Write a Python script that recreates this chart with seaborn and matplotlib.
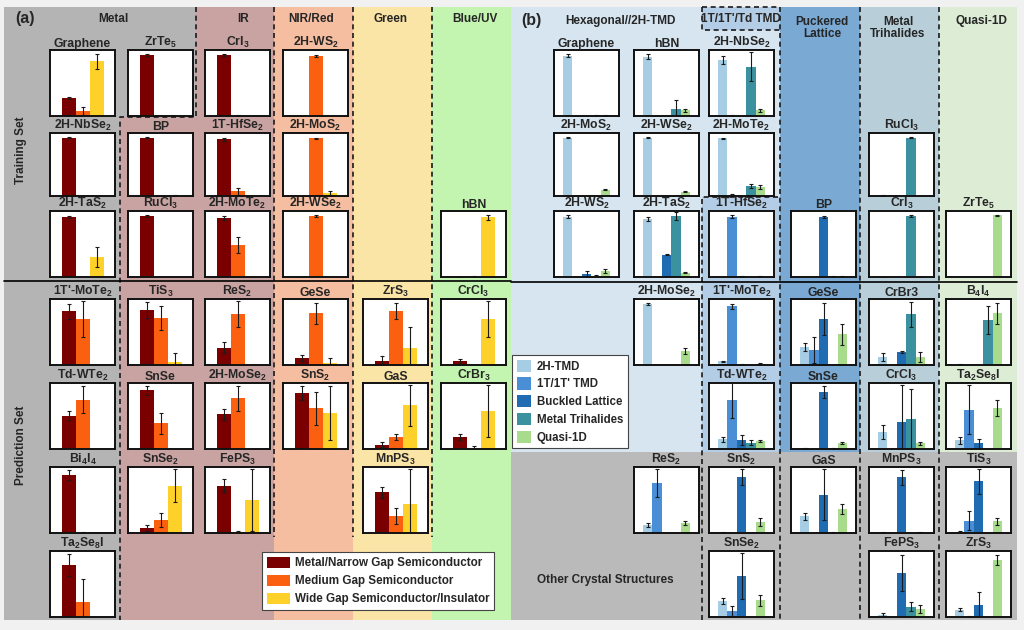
import numpy as np
import matplotlib
matplotlib.use('Agg')
import matplotlib.pyplot as plt
import seaborn as sns
from matplotlib.patches import Patch, Polygon, Rectangle

# ---------------- data : panel (a) band-gap class probabilities ----------------
a_classes = ['Metal/Narrow Gap Semiconductor', 'Medium Gap Semiconductor',
             'Wide Gap Semiconductor/Insulator']
a_names = ['Graphene', 'ZrTe$_5$', 'CrI$_3$', '2H-WS$_2$',
           '2H-NbSe$_2$', 'BP', '1T-HfSe$_2$', '2H-MoS$_2$',
           '2H-TaS$_2$', 'RuCl$_3$', '2H-MoTe$_2$', '2H-WSe$_2$', 'hBN',
           "1T'-MoTe$_2$", 'TiS$_3$', 'ReS$_2$', 'GeSe', 'ZrS$_3$', 'CrCl$_3$',
           'Td-WTe$_2$', 'SnSe', '2H-MoSe$_2$', 'SnS$_2$', 'GaS', 'CrBr$_3$',
           'Bi$_4$I$_4$', 'SnSe$_2$', 'FePS$_3$', 'MnPS$_3$',
           'Ta$_2$Se$_8$I']
a_metal = [0.29, 0.99, 0.99, 0.003, 0.99, 0.99, 0.96, 0, 0.97, 0.99, 0.96, 0.002, 0.003,
           0.87, 0.89, 0.28, 0.11, 0.07, 0.06, 0.54, 0.95, 0.56, 0.91, 0.07, 0.19,
           0.94, 0.08, 0.77, 0.66, 0.84]
a_medium = [0.08, 0, 0.005, 0.97, 0, 0, 0.08, 0.98, 0, 0, 0.52, 0.99, 0.005,
            0.75, 0.76, 0.82, 0.84, 0.88, 0, 0.80, 0.42, 0.82, 0.66, 0.20, 0,
            0, 0.21, 0.01, 0.28, 0.24]
a_wide = [0.89, 0, 0, 0, 0, 0.003, 0, 0.05, 0.32, 0, 0.003, 0, 0.97,
          0, 0.05, 0, 0.03, 0.27, 0.74, 0, 0, 0, 0.58, 0.71, 0.61,
          0, 0.77, 0.53, 0.47, 0]
a_metal_err = [0.01, 0.01, 0.01, 0.003, 0.01, 0.01, 0.03, 0, 0.02, 0.01, 0.03, 0.002, 0.003,
               0.12, 0.13, 0.09, 0.05, 0.07, 0.04, 0.07, 0.07, 0.09, 0.11, 0.04, 0.05,
               0.08, 0.05, 0.11, 0.09, 0.18]
a_medium_err = [0.065, 0, 0.005, 0.02, 0, 0, 0.06, 0.01, 0, 0, 0.13, 0.01, 0.005,
                0.29, 0.20, 0.21, 0.17, 0.13, 0, 0.22, 0.17, 0.20, 0.27, 0.05, 0.05,
                0.02, 0.12, 0.03, 0.13, 0.38]
a_wide_err = [0.12, 0, 0, 0, 0, 0.01, 0, 0.03, 0.16, 0, 0.005, 0, 0.04,
              0, 0.15, 0, 0.08, 0.35, 0.29, 0, 0, 0, 0.44, 0.33, 0.42,
              0, 0.26, 0.50, 0.56, 0]
# grid cell (row, column) of each material in panel (a)
a_cells = [(0, 0), (0, 1), (0, 2), (0, 3),
           (1, 0), (1, 1), (1, 2), (1, 3),
           (2, 0), (2, 1), (2, 2), (2, 3), (2, 5),
           (3, 0), (3, 1), (3, 2), (3, 3), (3, 4), (3, 5),
           (4, 0), (4, 1), (4, 2), (4, 3), (4, 4), (4, 5),
           (5, 0), (5, 1), (5, 2), (5, 4),
           (6, 0)]

# ---------------- data : panel (b) structure class probabilities ----------------
b_classes = ['2H-TMD', "1T/1T' TMD", 'Buckled Lattice', 'Metal Trihalides', 'Quasi-1D']
b_names = ['Graphene', 'hBN', '2H-NbSe$_2$',
           '2H-MoS$_2$', '2H-WSe$_2$', '2H-MoTe$_2$', 'RuCl$_3$',
           '2H-WS$_2$', '2H-TaS$_2$', '1T-HfSe$_2$', 'BP', 'CrI$_3$', 'ZrTe$_5$',
           '2H-MoSe$_2$', "1T'-MoTe$_2$", 'GeSe', 'CrBr3', 'B$_4$I$_4$',
           'Td-WTe$_2$', 'SnSe', 'CrCl$_3$', 'Ta$_2$Se$_8$I',
           'ReS$_2$', 'SnS$_2$', 'GaS', 'MnPS$_3$', 'TiS$_3$',
           'SnSe$_2$', 'FePS$_3$', 'ZrS$_3$']
b_2h = [0.98, 0.96, 0.91, 0.99, 0.99, 0.98, 0.005, 0.98, 0.94, 0, 0, 0.002, 0,
        0.99, 0.06, 0.29, 0.13, 0.005, 0.16, 0.01, 0.28, 0.14,
        0.13, 0.01, 0.27, 0.01, 0.01, 0.26, 0.04, 0.12]
b_1t = [0, 0, 0.005, 0, 0, 0.02, 0, 0.003, 0, 0.98, 0, 0, 0,
        0, 0.95, 0.24, 0, 0, 0.79, 0, 0, 0.64,
        0.81, 0, 0, 0, 0.20, 0.10, 0, 0.01]
b_buckled = [0, 0, 0, 0, 0, 0, 0, 0.05, 0.36, 0.01, 0.97, 0, 0,
             0, 0.005, 0.75, 0.21, 0, 0.14, 0.92, 0.44, 0.09,
             0, 0.91, 0.62, 0.90, 0.84, 0.66, 0.71, 0.19]
b_trihal = [0.005, 0.11, 0.80, 0, 0, 0.17, 0.99, 0.005, 0.99, 0, 0.005, 0.99, 0,
            0, 0, 0, 0.82, 0.73, 0.10, 0.01, 0.48, 0,
            0, 0, 0.005, 0, 0, 0, 0.17, 0]
b_quasi = [0.005, 0.09, 0.09, 0.11, 0.07, 0.15, 0, 0.10, 0.07, 0.005, 0.005, 0.003, 1.0,
           0.23, 0.02, 0.50, 0.13, 0.84, 0.13, 0.10, 0.09, 0.67,
           0.16, 0.18, 0.39, 0.01, 0.19, 0.27, 0.13, 0.92]
b_2h_err = [0.02, 0.04, 0.06, 0.01, 0.01, 0.01, 0.005, 0.02, 0.03, 0, 0, 0.003, 0,
            0.02, 0.01, 0.07, 0.07, 0.01, 0.04, 0.01, 0.11, 0.06,
            0.03, 0.01, 0.06, 0.01, 0.02, 0.05, 0.03, 0.03]
b_1t_err = [0, 0, 0.01, 0, 0, 0.02, 0, 0.005, 0, 0.02, 0, 0, 0,
            0, 0.04, 0.21, 0, 0, 0.29, 0, 0, 0.40,
            0.23, 0, 0, 0, 0.15, 0.08, 0, 0.01]
b_buckled_err = [0, 0, 0, 0, 0, 0, 0, 0.05, 0.01, 0.01, 0.02, 0, 0,
                 0, 0.01, 0.26, 0.01, 0, 0.08, 0.10, 0.60, 0.08,
                 0, 0.13, 0.41, 0.12, 0.20, 0.37, 0.29, 0.21]
b_trihal_err = [0.01, 0.15, 0.23, 0, 0, 0.03, 0.01, 0.02, 0.06, 0, 0.01, 0.01, 0,
                0, 0, 0, 0.20, 0.23, 0.04, 0.01, 0.50, 0,
                0, 0, 0.01, 0, 0, 0, 0.07, 0]
b_quasi_err = [0.01, 0.03, 0.02, 0.01, 0.01, 0.03, 0, 0.03, 0.01, 0.01, 0.01, 0.005, 0.01,
               0.05, 0.01, 0.17, 0.08, 0.17, 0.02, 0.02, 0.02, 0.13,
               0.03, 0.07, 0.08, 0.01, 0.06, 0.09, 0.07, 0.08]
b_cells = [(0, 0), (0, 1), (0, 2),
           (1, 0), (1, 1), (1, 2), (1, 4),
           (2, 0), (2, 1), (2, 2), (2, 3), (2, 4), (2, 5),
           (3, 1), (3, 2), (3, 3), (3, 4), (3, 5),
           (4, 2), (4, 3), (4, 4), (4, 5),
           (5, 1), (5, 2), (5, 3), (5, 4), (5, 5),
           (6, 2), (6, 4), (6, 5)]

a_colors = ['#7a0000', '#fb6010', '#fdd12a']
b_colors = ['#a6cde3', '#4a8fd6', '#1f6cb2', '#3c91a0', '#a8db8c']

# ---------------- style ----------------
sns.set_style('white')
plt.rcParams['font.family'] = ['Liberation Sans', 'DejaVu Sans']
plt.rcParams['font.weight'] = 'bold'
plt.rcParams['mathtext.fontset'] = 'custom'
plt.rcParams['mathtext.rm'] = 'Liberation Sans:bold'
plt.rcParams['mathtext.it'] = 'Liberation Sans:bold'
plt.rcParams['mathtext.bf'] = 'Liberation Sans:bold'
plt.rcParams['mathtext.default'] = 'bf'

W, H = 1024, 630
fig = plt.figure(figsize=(W / 100, H / 100), dpi=100, facecolor='#f1f1f1')
bg = fig.add_axes([0, 0, 1, 1])
bg.set_xlim(0, W)
bg.set_ylim(H, 0)
bg.axis('off')


def region(pts, color):
    bg.add_patch(Polygon(pts, closed=True, fc=color, ec='none', zorder=0))


def rect(x, y, w, h, color):
    bg.add_patch(Rectangle((x, y), w, h, fc=color, ec='none', zorder=0))


def dashed(xs, ys):
    bg.plot(xs, ys, color='#1a1a1a', lw=1.2, ls=(0, (3, 2.2)), zorder=2)


# panel (a) backgrounds
region([(4, 7), (196, 7), (196, 117), (120, 117), (120, 620), (4, 620)], '#b4b4b4')
region([(196, 7), (274, 7), (274, 620), (120, 620), (120, 117), (196, 117)], '#c9a3a1')
rect(274, 7, 78.5, 613, '#f6bea0')
rect(352.5, 7, 79.5, 613, '#fae4a6')
rect(432, 7, 79, 613, '#c3f5b0')
dashed([196, 196, 120, 120], [7, 117, 117, 620])
for x in [274, 352.5, 432]:
    dashed([x, x], [7, 537])
bg.plot([4, 511], [281, 281], color='k', lw=1.2, zorder=2)

# panel (b) backgrounds
region([(511, 7), (702, 7), (702, 30), (780, 30), (780, 197), (702, 197), (702, 452), (511, 452)], '#d6e5f0')
rect(702, 7, 78, 23, '#b4cde6')
rect(702, 197, 78, 255, '#b4cde6')
rect(780, 7, 80, 445, '#7aaad4')
rect(860, 7, 79, 445, '#b8cfda')
rect(939, 7, 78, 445, '#ddecd5')
rect(511, 452, 506, 168, '#bababa')
dashed([702, 702, 780], [7, 30, 30])
dashed([702, 780], [7, 7])
dashed([702, 702, 780], [620, 197, 197])
for x in [780, 860, 939]:
    dashed([x, x], [7, 620])
bg.plot([511, 1017], [282, 282], color='k', lw=1.2, zorder=2)

# headers
hdr = dict(ha='center', va='center', fontsize=8.5, fontweight='bold', zorder=3)
bg.text(25, 19, '(a)', fontsize=11.5, ha='center', va='center', fontweight='bold')
bg.text(113, 19, 'Metal', **hdr)
bg.text(243, 19, 'IR', **hdr)
bg.text(311, 19, 'NIR/Red', **hdr)
bg.text(390, 19, 'Green', **hdr)
bg.text(475, 19, 'Blue/UV', **hdr)
bg.text(531, 21, '(b)', fontsize=11.5, ha='center', va='center', fontweight='bold')
bg.text(620, 21, 'Hexagonal//2H-TMD', **hdr)
bg.text(741, 19, "1T/1T'/Td TMD", **hdr)
bg.text(822, 28, 'Puckered\nLattice', linespacing=1.1, **hdr)
bg.text(898, 28, 'Metal\nTrihalides', linespacing=1.1, **hdr)
bg.text(981, 21, 'Quasi-1D', **hdr)
bg.text(21, 150, 'Training Set', rotation=90, **hdr)
bg.text(21, 445, 'Prediction Set', rotation=90, **hdr)
bg.text(605, 580, 'Other Crystal Structures', **hdr)

# subplot grid in pixels
row_top = [50, 133, 211, 299, 383, 467, 551]
row_h = [66, 63, 66, 66, 66, 66, 66]
a_col_left = [50, 128, 205, 283, 363, 441]
b_col_left = [554, 634, 709, 791, 869, 946]
box_w = 65


def small_axes(x0, y0, h):
    return fig.add_axes([x0 / W, 1 - (y0 + h) / H, box_w / W, h / H])


def bar_panel(ax, title, classes, values, errors, colors, xlim):
    sns.barplot(x=classes, y=values, hue=classes, order=classes, hue_order=classes,
                palette=colors, width=1.0, saturation=1, linewidth=0,
                legend=False, errorbar=None, ax=ax)
    pos = np.arange(len(classes))
    err = np.asarray(errors)
    m = err > 0
    ax.errorbar(pos[m], np.asarray(values)[m], yerr=err[m], fmt='none',
                ecolor='#1a1a1a', elinewidth=0.8, capsize=1.5, capthick=0.8)
    ax.set_xlim(*xlim)
    ax.set_ylim(0, 1.07)
    ax.set(xlabel='', ylabel='', xticks=[], yticks=[])
    ax.set_facecolor('white')
    for s in ax.spines.values():
        s.set_visible(True)
        s.set_color('#111111')
        s.set_linewidth(1.4)
    ax.set_title(title, fontsize=8.8, fontweight='bold', pad=1.8)


for i, name in enumerate(a_names):
    r, c = a_cells[i]
    ax = small_axes(a_col_left[c], row_top[r], row_h[r])
    bar_panel(ax, name, a_classes,
              [a_metal[i], a_medium[i], a_wide[i]],
              [a_metal_err[i], a_medium_err[i], a_wide_err[i]],
              a_colors, (-1.36, 3.28))

for i, name in enumerate(b_names):
    r, c = b_cells[i]
    ax = small_axes(b_col_left[c], row_top[r], row_h[r])
    bar_panel(ax, name, b_classes,
              [b_2h[i], b_1t[i], b_buckled[i], b_trihal[i], b_quasi[i]],
              [b_2h_err[i], b_1t_err[i], b_buckled_err[i], b_trihal_err[i], b_quasi_err[i]],
              b_colors, (-1.45, 5.45))

# legends
leg_a = bg.legend(handles=[Patch(fc=c, ec='none') for c in a_colors], labels=a_classes,
                  loc='upper left', bbox_to_anchor=(262, 552), bbox_transform=bg.transData,
                  fontsize=8.4, handlelength=2.0, handleheight=1.15, handletextpad=0.4,
                  labelspacing=0.45, borderpad=0.4, borderaxespad=0, fancybox=False,
                  framealpha=1, edgecolor='#444444')
leg_a.get_frame().set_linewidth(0.8)
bg.add_artist(leg_a)
leg_b = bg.legend(handles=[Patch(fc=c, ec='none') for c in b_colors], labels=b_classes,
                  loc='upper left', bbox_to_anchor=(512, 355), bbox_transform=bg.transData,
                  fontsize=8.3, handlelength=1.25, handleheight=1.25, handletextpad=0.5,
                  labelspacing=0.42, borderpad=0.4, borderaxespad=0, fancybox=False,
                  framealpha=1, edgecolor='#444444')
leg_b.get_frame().set_linewidth(0.8)

fig.savefig('out.png', dpi=100, facecolor=fig.get_facecolor())
